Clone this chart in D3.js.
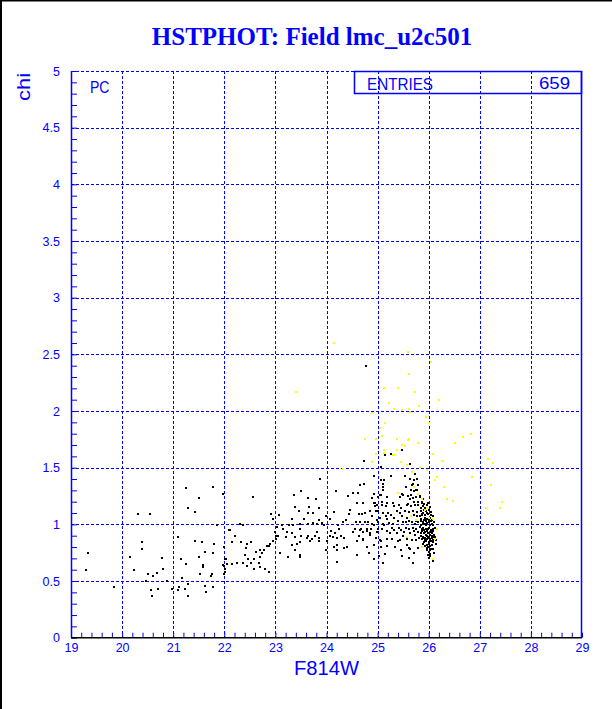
<!DOCTYPE html>
<html><head><meta charset="utf-8">
<script src="https://cdn.jsdelivr.net/npm/d3@7"></script>
<style>html,body{margin:0;padding:0;background:#fff;}svg{display:block}</style>
</head><body><svg id="c" width="612" height="709"></svg>
<script>
const title = "HSTPHOT: Field lmc_u2c501";
const xLabel = "F814W";
const yLabel = "chi";
const statLabel = "ENTRIES";
const statValue = "659";
const optLabel = "PC";
const xTicks = [19,20,21,22,23,24,25,26,27,28,29];
const yTicks = [0,0.5,1,1.5,2,2.5,3,3.5,4,4.5,5];
const yTickLabels = ["0","0.5","1","1.5","2","2.5","3","3.5","4","4.5","5"];

// black points [F814W, chi]
const blackPts = [
[21.28,1.14],[21.43,1.11],[20.31,1.09],[20.55,1.09],[21.85,0.99],[22.10,0.95],[21.09,0.89],[20.38,0.84],[21.42,0.85],[21.56,0.84],[21.79,0.83],[20.38,0.78],[21.99,0.80],[21.63,0.76],[21.77,0.75],[19.34,0.75],[20.15,0.71],[21.50,0.71],[20.78,0.70],[21.15,0.69],[22.03,0.69],[21.26,0.65],[21.58,0.64],[21.58,0.62],[21.98,0.64],[22.01,0.61],[19.29,0.60],[20.23,0.60],[20.80,0.61],[20.68,0.57],[20.51,0.56],[21.52,0.56],[21.76,0.56],[20.60,0.54],[21.73,0.54],[21.17,0.53],[20.87,0.50],[20.46,0.50],[21.28,0.47],[19.84,0.45],[21.62,0.46],[21.78,0.45],[20.71,0.43],[20.56,0.42],[20.98,0.43],[21.09,0.42],[21.23,0.43],[21.12,0.45],[21.64,0.40],[20.58,0.37],[21.28,0.37],
[21.26,1.32],[21.77,1.33],[21.97,1.27],[21.50,1.23],[22.56,1.24],
[23.87,1.40],[24.73,1.36],[24.66,1.35],[23.50,1.29],[23.36,1.26],[24.19,1.29],[24.62,1.28],[24.52,1.28],[24.43,1.25],[25.13,1.39],[25.11,1.33],[25.11,1.30],[23.79,1.22],[23.64,1.23],[23.38,1.15],[23.47,1.12],[23.65,1.15],[23.85,1.14],[23.63,1.10],[23.73,1.10],[22.92,1.09],[23.08,1.08],[22.96,1.05],[23.33,1.05],[23.55,1.05],[23.85,1.04],[23.99,1.07],[24.07,1.05],[24.15,1.11],[24.46,1.13],[24.60,1.19],[24.71,1.19],[24.45,1.09],[24.64,1.09],[24.76,1.10],[24.89,1.23],[24.93,1.19],[24.98,1.17],[25.01,1.12],[25.05,1.26],[25.09,1.20],[25.16,1.16],[25.18,1.24],[24.39,1.04],[24.33,1.02],[24.58,1.02],[24.66,1.02],[24.81,1.02],[24.92,0.99],[24.98,1.04],[25.16,1.07],[25.12,0.99],[25.01,0.96],[24.66,0.95],[24.79,0.96],[24.56,0.96],[24.52,0.93],[24.72,0.93],[24.86,0.92],[24.64,0.90],[24.22,0.99],[24.24,0.96],[24.09,0.94],[24.17,0.92],[24.07,0.90],[24.13,0.89],[24.21,0.88],[24.29,0.90],[24.34,0.88],[24.59,0.85],[24.71,0.86],[24.41,0.80],[24.20,0.82],[24.00,0.85],[24.15,0.80],[24.35,0.79],[24.20,0.77],[23.99,0.77],[24.59,0.73],[24.20,0.67],[25.05,0.86],[23.91,1.01],[23.95,0.99],[23.82,1.00],[23.73,1.01],[23.64,1.00],[23.48,0.96],[23.48,1.00],[23.35,0.99],[23.26,0.99],[23.13,0.99],[23.03,0.98],[23.14,0.96],[23.23,0.93],[23.32,0.92],[23.20,0.89],[23.39,0.89],[23.51,0.90],[23.64,0.90],[23.78,0.90],[23.81,0.93],[23.61,0.88],[23.71,0.87],[23.85,0.88],[23.67,0.85],[23.85,0.85],[23.48,0.84],[23.43,0.83],[23.32,0.82],[23.39,0.77],[23.48,0.73],[23.48,0.71],[23.09,0.75],[23.25,0.71],[23.01,0.87],[23.01,0.90],[22.96,0.85],[22.99,0.93],[23.05,0.90],[22.89,0.83],[22.83,0.81],[22.87,0.81],[22.78,0.77],[22.70,0.77],[22.63,0.76],[22.74,0.75],[22.69,0.71],[22.59,0.69],[22.52,0.84],[22.44,0.83],[22.32,0.84],[22.20,0.90],[22.11,0.95],[22.16,0.84],[22.31,1.00],[22.37,0.99],[22.42,0.79],[22.41,0.73],[22.46,0.69],[22.37,0.66],[22.25,0.66],[22.16,0.65],[22.05,0.65],[22.02,0.69],[21.99,0.63],[22.01,0.58],[22.44,0.63],[22.59,0.61],[22.70,0.62],[22.80,0.61],[22.88,0.58],[22.53,0.66],[22.67,0.66],[21.99,0.56],
[24.77,2.40],[25.47,1.66],[25.26,1.62],[24.73,1.56],[25.06,1.51],[25.15,1.61],[25.63,1.53],
[24.93,1.43],[25.06,1.39],[25.11,1.36],[24.92,1.27],[25.00,1.24],[25.07,1.26],[24.95,1.19],[24.94,1.16],[25.09,1.17],[25.18,1.19],[24.85,1.12],[24.97,1.12],[25.11,1.10],[25.20,1.10],[24.70,1.09],[24.90,1.07],[25.05,1.06],[25.18,1.05],[24.75,1.02],[24.89,1.00],[25.01,1.02],[25.11,1.00],[25.22,1.01],[24.68,0.96],[24.79,0.94],[24.88,0.96],[24.98,0.93],[25.09,0.96],[25.18,0.94],[24.72,0.87],[24.85,0.91],[24.96,0.88],[25.07,0.85],[25.19,0.87],[24.79,0.80],[24.92,0.82],[25.06,0.80],[25.18,0.81],[24.84,0.75],[25.02,0.72],[25.14,0.74],[24.93,0.69],[25.11,0.66],[26.11,0.75],[26.14,0.86],[26.15,0.83],[26.10,0.89],
[25.26,1.43],[25.53,1.43],[25.63,1.40],[25.72,1.39],[25.70,1.36],[25.67,1.35],[25.56,1.33],[25.78,1.30],[25.72,1.29],[25.65,1.30],[25.50,1.26],[25.43,1.24],[25.48,1.27],[25.59,1.25],[25.63,1.22],[25.70,1.23],[25.76,1.24],[25.83,1.24],[25.71,1.20],[25.79,1.20],[25.87,1.20],[25.31,1.19],[25.33,1.16],[25.41,1.17],[25.46,1.14],[25.57,1.17],[25.65,1.16],[25.74,1.17],[25.80,1.17],[25.88,1.16],[25.93,1.14],[25.37,1.12],[25.43,1.10],[25.53,1.12],[25.61,1.11],[25.69,1.12],[25.77,1.11],[25.84,1.12],[25.89,1.10],[25.97,1.10],[25.27,1.08],[25.33,1.06],[25.48,1.07],[25.57,1.06],[25.65,1.07],[25.72,1.08],[25.82,1.07],[25.87,1.08],[25.92,1.06],[25.97,1.05],[26.02,1.06],[25.40,1.03],[25.50,1.02],[25.61,1.03],[25.67,1.02],[25.76,1.03],[25.84,1.03],[25.89,1.02],[25.95,1.03],[26.00,1.02],[26.05,1.03],[25.28,0.97],[25.32,0.95],[25.41,0.97],[25.46,0.95],[25.56,0.97],[25.62,0.96],[25.70,0.97],[25.76,0.96],[25.84,0.99],[25.89,0.97],[25.95,0.99],[26.01,0.97],[26.08,0.99],[26.13,0.97],[25.87,0.94],[25.92,0.93],[25.97,0.94],[26.04,0.93],[26.09,0.94],[25.37,0.92],[25.50,0.90],[25.63,0.92],[25.74,0.91],[25.84,0.90],[25.89,0.89],[25.96,0.90],[26.01,0.89],[26.06,0.90],[26.12,0.89],[25.28,0.87],[25.44,0.86],[25.57,0.87],[25.67,0.86],[25.87,0.87],[25.92,0.86],[25.97,0.87],[26.02,0.85],[26.08,0.86],[25.89,0.83],[25.96,0.82],[26.01,0.83],[26.06,0.82],[25.45,0.77],[25.61,0.79],[25.79,0.79],[25.96,0.79],[26.02,0.77],[26.09,0.78],[25.71,0.75],[25.61,0.70],[25.70,0.66],[26.02,0.74],[26.01,0.70],[26.09,0.68],
[25.86,1.19],[25.91,1.18],[25.96,1.17],[25.99,1.19],[26.03,1.15],[25.84,1.14],[25.90,1.13],[25.94,1.12],[26.00,1.13],[26.05,1.11],[25.86,1.09],[25.92,1.08],[25.98,1.09],[26.04,1.08],[26.08,1.07],[25.85,1.05],[25.90,1.04],[25.95,1.05],[26.00,1.04],[26.06,1.04],[26.10,1.02],[25.88,1.00],[25.93,1.00],[25.97,1.01],[26.03,0.99],[26.07,1.00],[25.86,0.96],[25.91,0.95],[25.95,0.96],[25.99,0.96],[26.04,0.95],[26.08,0.96],[25.85,0.92],[25.90,0.92],[25.94,0.91],[25.99,0.92],[26.03,0.91],[26.07,0.92],[26.11,0.91],[25.88,0.88],[25.93,0.88],[25.98,0.88],[26.02,0.87],[26.06,0.88],[25.91,0.84],[25.95,0.85],[26.00,0.84],[26.04,0.85],[26.09,0.84],[25.93,0.81],[25.98,0.80],[26.03,0.81],[25.96,0.77],[26.00,0.76],[26.05,0.78],[25.98,0.73],[26.03,0.72],[25.82,0.98],[25.80,1.02],[25.79,0.93],[25.81,0.88],[25.76,0.86],[25.74,1.00],[25.72,0.94],[25.77,1.07],[25.83,1.25],[25.88,1.22],[25.75,1.30],[25.80,1.35],[25.77,1.40],[25.73,1.44],[25.66,1.26],[25.60,1.18],[25.55,1.02],[25.52,0.93],[25.40,0.85],[25.35,0.80],[25.47,0.72],[25.30,1.00],[25.25,0.92],[25.58,0.82],[25.64,0.78]
];

// yellow points [F814W, chi]
const yellowPts = [
[25.37,1.66],[25.32,1.61],[25.54,1.69],[25.60,1.74],[25.80,1.72],[26.09,1.62],[26.27,1.56],[25.45,1.55],[25.57,1.52],[25.83,1.51],[25.96,1.48],[25.67,1.46],[26.16,1.42],[26.12,1.39],[26.30,1.33],[25.71,1.33],[25.79,1.27],[25.40,1.28],[26.35,1.22],[25.87,1.22],[25.92,1.13],[25.96,1.14],[25.66,1.07],[25.76,1.04],[26.01,1.06],[26.09,1.05],[26.17,0.96],[25.57,0.89],[26.13,0.87],[25.87,0.80],[26.09,0.69],
[25.60,2.52],[26.04,2.43],[25.61,2.33],[25.12,2.20],[25.40,2.20],[25.73,2.17],[26.21,2.10],[25.22,2.07],[25.32,2.02],[25.48,2.01],[25.61,2.02],[25.63,1.99],[25.81,2.04],[24.90,1.98],[25.94,1.95],[26.00,1.89],[25.14,1.89],[25.05,1.85],[24.75,1.75],[24.97,1.75],[25.09,1.78],[25.37,1.75],[25.48,1.70],[25.62,1.75],[25.12,1.66],[25.12,1.63],[24.97,1.62],[25.31,1.61],[24.89,1.55],
[26.52,1.72],[26.67,1.77],[26.82,1.80],[27.17,1.58],[27.25,1.54],[26.84,1.42],[26.47,1.21],[27.13,1.14],[27.21,1.35],[27.43,1.20],[27.40,1.14],[23.40,2.17],[24.15,2.60],[24.33,1.49]
];

const BLUE = "#0000ff";
const sans = "'Liberation Sans', Arial, Helvetica, sans-serif";
const svg = d3.select("#c");
svg.append("rect").attr("width",612).attr("height",709).attr("fill","#fff");

const L = 71, R = 582, T = 71, B = 637.7;
const x = d3.scaleLinear().domain([19,29]).range([L,R]);
const y = d3.scaleLinear().domain([0,5]).range([B,T]);

// outer border (left & top)
svg.append("path").attr("d","M1,709V0.5H612").attr("fill","none").attr("stroke","#000").attr("stroke-width",2);

// title
svg.append("text").attr("x",312).attr("y",45).attr("text-anchor","middle")
  .attr("font-family","'Liberation Serif','Times New Roman',serif").attr("font-weight","bold")
  .attr("font-size",25).attr("fill",BLUE).text(title);

// grid
const g = svg.append("g");
g.selectAll(".vg").data(xTicks.filter(d=>d>19 && d<29)).join("line")
  .attr("x1",d=>Math.round(x(d))+0.5).attr("x2",d=>Math.round(x(d))+0.5)
  .attr("y1",y(5)).attr("y2",y(0))
  .attr("stroke",BLUE).attr("stroke-width",1).attr("stroke-dasharray","3,2");
g.selectAll(".hg").data(yTicks.filter(d=>d>0)).join("line")
  .attr("x1",x(19)).attr("x2",x(29))
  .attr("y1",d=>Math.round(y(d))+0.5).attr("y2",d=>Math.round(y(d))+0.5)
  .attr("stroke",BLUE).attr("stroke-width",1).attr("stroke-dasharray","3,2");

// points
g.selectAll(".bp").data(blackPts).join("rect")
  .attr("x",d=>Math.round(x(d[0]))-1).attr("y",d=>Math.round(y(d[1]))-1)
  .attr("width",2).attr("height",2).attr("fill","#000").attr("shape-rendering","crispEdges");
g.selectAll(".yp").data(yellowPts).join("rect")
  .attr("x",d=>Math.round(x(d[0]))-1).attr("y",d=>Math.round(y(d[1]))-1)
  .attr("width",2).attr("height",2).attr("fill","#ffff00").attr("shape-rendering","crispEdges");

// minor ticks
const xMinor = d3.range(0,51).map(i=>19+i*0.2);
const yMinor = d3.range(0,51).map(i=>i*0.1);
const xm = svg.append("g").attr("transform",`translate(0,${B})`)
  .call(d3.axisBottom(x).tickValues(xMinor).tickSize(-5).tickFormat(""));
xm.select(".domain").remove();
xm.selectAll("line").attr("stroke",BLUE);
const ym = svg.append("g").attr("transform",`translate(${L},0)`)
  .call(d3.axisLeft(y).tickValues(yMinor).tickSize(-6).tickFormat(""));
ym.select(".domain").remove();
ym.selectAll("line").attr("stroke",BLUE);

// frame
svg.append("line").attr("x1",L+0.5).attr("x2",L+0.5).attr("y1",T).attr("y2",B).attr("stroke",BLUE).attr("stroke-width",1.5);
svg.append("line").attr("x1",R-0.5).attr("x2",R-0.5).attr("y1",T).attr("y2",B).attr("stroke",BLUE).attr("stroke-width",1.5);
svg.append("line").attr("x1",L).attr("x2",R).attr("y1",B).attr("y2",B).attr("stroke","#000").attr("stroke-width",1.5);

// labelled axes
const xa = svg.append("g").attr("transform",`translate(0,${B})`)
  .call(d3.axisBottom(x).tickValues(xTicks).tickSize(0).tickPadding(5).tickFormat(d3.format("d")));
xa.select(".domain").remove();
xa.selectAll("text").attr("fill",BLUE).attr("font-family",sans).attr("font-size",12.5);

const ya = svg.append("g").attr("transform",`translate(${L},0)`)
  .call(d3.axisLeft(y).tickValues(yTicks).tickSize(0).tickPadding(11).tickFormat((d,i)=>yTickLabels[i]));
ya.select(".domain").remove();
ya.selectAll("text").attr("fill",BLUE).attr("font-family",sans).attr("font-size",12.5);

// axis titles
svg.append("text").attr("x",326.5).attr("y",675).attr("text-anchor","middle")
  .attr("font-family",sans).attr("font-size",20).attr("fill",BLUE)
  .attr("textLength",65).attr("lengthAdjust","spacingAndGlyphs").text(xLabel);
svg.append("text").attr("transform","translate(30,101) rotate(-90)").attr("text-anchor","start")
  .attr("font-family",sans).attr("font-size",18).attr("fill",BLUE)
  .attr("textLength",28).attr("lengthAdjust","spacingAndGlyphs").text(yLabel);

// option label
svg.append("text").attr("x",90).attr("y",93).attr("font-family",sans).attr("font-size",16.5)
  .attr("fill",BLUE).attr("textLength",19.5).attr("lengthAdjust","spacingAndGlyphs").text(optLabel);

// stats box
svg.append("rect").attr("x",354.5).attr("y",T+0.5).attr("width",R-355).attr("height",22)
  .attr("fill","none").attr("stroke",BLUE).attr("stroke-width",1.5);
svg.append("text").attr("x",367).attr("y",89.5).attr("font-family",sans).attr("font-size",16)
  .attr("fill",BLUE).attr("textLength",66).attr("lengthAdjust","spacingAndGlyphs").text(statLabel);
svg.append("text").attr("x",539).attr("y",89).attr("font-family",sans).attr("font-size",16)
  .attr("fill",BLUE).attr("textLength",31).attr("lengthAdjust","spacingAndGlyphs").text(statValue);
</script></body></html>
